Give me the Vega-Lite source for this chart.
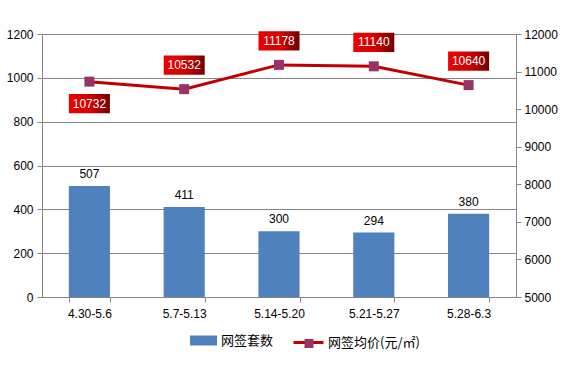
{
  "$schema": "https://vega.github.io/schema/vega-lite/v6.json",
  "width": 474,
  "height": 263,
  "autosize": "none",
  "padding": {"left": 42, "top": 34, "right": 68, "bottom": 68},
  "background": "white",
  "config": {
    "view": {"stroke": null},
    "font": "Liberation Sans",
    "axis": {
      "domainColor": "#868686",
      "tickColor": "#868686",
      "gridColor": "#868686",
      "labelFont": "Liberation Sans",
      "labelFontSize": 12,
      "labelColor": "#000000",
      "tickSize": 5,
      "title": null
    },
    "legend": {
      "labelFont": "Noto Sans CJK SC",
      "labelFontSize": 13,
      "labelColor": "#000000",
      "orient": "none",
      "title": null,
      "padding": 0
    }
  },
  "data": {
    "values": [
      {"week": "4.30-5.6", "count": 507, "price": 10732},
      {"week": "5.7-5.13", "count": 411, "price": 10532},
      {"week": "5.14-5.20", "count": 300, "price": 11178},
      {"week": "5.21-5.27", "count": 294, "price": 11140},
      {"week": "5.28-6.3", "count": 380, "price": 10640}
    ]
  },
  "encoding": {
    "x": {
      "field": "week",
      "type": "nominal",
      "sort": null,
      "scale": {"paddingInner": 0.566, "paddingOuter": 0.283},
      "axis": {"labelAngle": 0, "tickBand": "extent", "labelPadding": 6, "grid": false}
    }
  },
  "layer": [
    {
      "encoding": {
        "y": {
          "field": "count",
          "type": "quantitative",
          "scale": {"domain": [0, 1200]},
          "axis": {"values": [0, 200, 400, 600, 800, 1000, 1200], "format": "d", "grid": true, "labelPadding": 4}
        }
      },
      "layer": [
        {
          "mark": {"type": "bar"},
          "encoding": {
            "fill": {
              "datum": "网签套数",
              "scale": {"range": ["#4F81BD"]},
              "legend": {
                "legendX": 148,
                "legendY": 293,
                "symbolType": "M-1,-0.37H1V0.37H-1Z",
                "symbolSize": 729,
                "symbolOpacity": 1,
                "symbolStrokeWidth": 0,
                "labelOffset": 4
              }
            }
          }
        },
        {
          "mark": {"type": "text", "baseline": "alphabetic", "dy": -8, "fontSize": 12, "color": "#000000"},
          "encoding": {"text": {"field": "count", "type": "quantitative"}}
        }
      ]
    },
    {
      "encoding": {
        "y": {
          "field": "price",
          "type": "quantitative",
          "scale": {"domain": [5000, 12000]},
          "axis": {"orient": "right", "values": [5000, 6000, 7000, 8000, 9000, 10000, 11000, 12000], "format": "d", "grid": false, "labelPadding": 3}
        }
      },
      "layer": [
        {
          "mark": {"type": "line", "strokeWidth": 3},
          "encoding": {
            "stroke": {
              "datum": "网签均价(元/㎡)",
              "scale": {"range": ["#C00000"]},
              "legend": {
                "legendX": 250,
                "legendY": 292,
                "symbolType": "stroke",
                "symbolSize": 900,
                "symbolStrokeWidth": 3,
                "labelOffset": 3
              }
            }
          }
        },
        {
          "mark": {"type": "point", "shape": "square", "size": 100, "filled": true, "opacity": 1},
          "encoding": {
            "fill": {
              "datum": "网签均价",
              "scale": {"range": ["#993366"]},
              "legend": {
                "legendX": 260.5,
                "legendY": 303,
                "symbolType": "square",
                "symbolSize": 81,
                "symbolOpacity": 1,
                "symbolStrokeWidth": 0,
                "labelExpr": "''",
                "zindex": 2
              }
            }
          }
        },
        {
          "transform": [{"filter": "datum.week != '4.30-5.6'"}],
          "layer": [
            {
              "mark": {
                "type": "point",
                "shape": "M-1,-0.47H1V0.47H-1Z",
                "size": 1681,
                "filled": true,
                "opacity": 1,
                "yOffset": -24,
                "fill": {"x1": 0, "x2": 1, "y1": 0, "y2": 0, "gradient": "linear", "stops": [{"offset": 0, "color": "#EE0000"}, {"offset": 0.55, "color": "#D00000"}, {"offset": 1, "color": "#700000"}]}
              }
            },
            {
              "mark": {"type": "text", "yOffset": -24, "baseline": "middle", "fontSize": 12, "color": "#FFFFFF"},
              "encoding": {"text": {"field": "price", "type": "quantitative", "format": "d"}}
            }
          ]
        },
        {
          "transform": [{"filter": "datum.week == '4.30-5.6'"}],
          "layer": [
            {
              "mark": {
                "type": "point",
                "shape": "M-1,-0.47H1V0.47H-1Z",
                "size": 1681,
                "filled": true,
                "opacity": 1,
                "yOffset": 22,
                "fill": {"x1": 0, "x2": 1, "y1": 0, "y2": 0, "gradient": "linear", "stops": [{"offset": 0, "color": "#EE0000"}, {"offset": 0.55, "color": "#D00000"}, {"offset": 1, "color": "#700000"}]}
              }
            },
            {
              "mark": {"type": "text", "yOffset": 22, "baseline": "middle", "fontSize": 12, "color": "#FFFFFF"},
              "encoding": {"text": {"field": "price", "type": "quantitative", "format": "d"}}
            }
          ]
        }
      ]
    }
  ],
  "resolve": {"scale": {"y": "independent", "fill": "independent", "stroke": "independent"}}
}
